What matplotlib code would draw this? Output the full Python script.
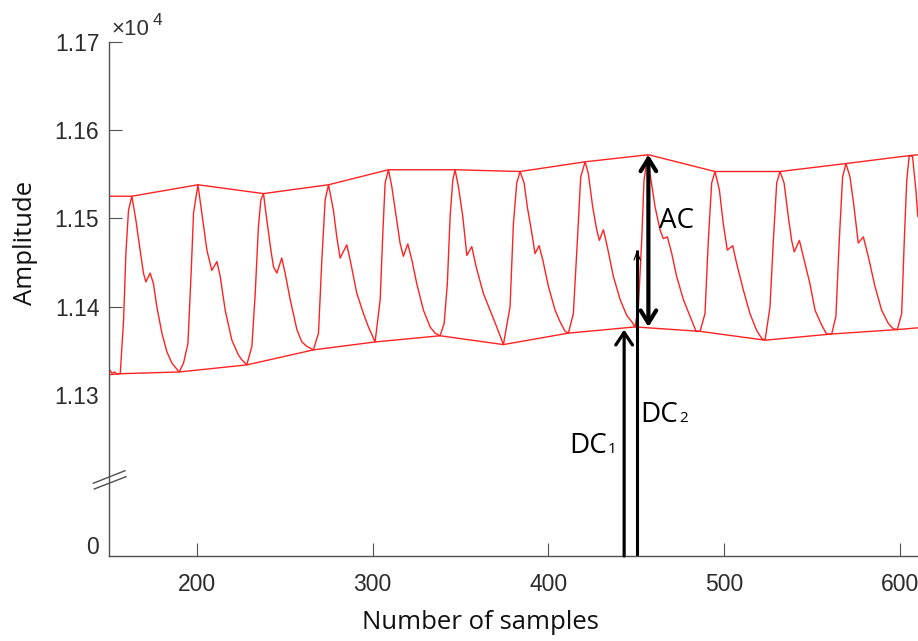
import matplotlib
matplotlib.use('Agg')
import matplotlib.pyplot as plt

# ---------------------- Data ----------------------
# PPG waveform, one row per beat: sharp upstroke, dicrotic notch, decay
wave_x = [150.1, 151.7, 153.1, 154.5, 156.4, 158.3, 159.6, 161.1, 163.0, 165.3, 167.7, 169.6, 171.0, 173.4, 175.3, 177.2, 180.1, 182.9, 185.8, 189.9,
          192.4, 194.9, 196.8, 198.1, 200.6, 202.8, 205.7, 208.5, 211.4, 213.3, 216.1, 219.9, 223.7, 225.5, 228.4,
          231.3, 233.2, 235.0, 236.4, 237.9, 239.8, 242.1, 243.6, 245.5, 248.3, 250.2, 253.1, 256.9, 259.7, 262.6, 266.3,
          269.2, 271.1, 273.0, 274.9, 277.7, 279.6, 281.5, 285.3, 287.2, 291.0, 294.8, 297.6, 301.4,
          304.3, 305.8, 307.1, 309.0, 310.9, 313.4, 315.6, 317.5, 320.0, 322.3, 325.1, 328.9, 332.7, 335.5, 338.4,
          340.7, 342.5, 344.1, 345.6, 346.9, 348.8, 351.3, 353.6, 356.4, 358.9, 363.0, 366.8, 370.6, 374.4,
          378.2, 380.1, 382.0, 383.9, 386.2, 388.0, 390.6, 392.4, 394.7, 396.8, 400.0, 403.8, 406.6, 409.5, 411.4,
          414.2, 416.5, 418.4, 420.9, 422.7, 425.2, 427.5, 429.0, 431.3, 433.5, 437.0, 440.8, 444.6, 447.4, 449.3,
          451.2, 453.1, 454.4, 456.5, 457.8, 460.7, 463.5, 465.4, 467.7, 470.2, 473.0, 476.8, 480.6, 484.0, 486.3,
          489.1, 491.0, 492.9, 494.8, 497.3, 499.5, 501.8, 504.9, 507.1, 510.9, 514.7, 518.5, 521.4, 523.3,
          526.1, 528.0, 529.9, 531.8, 534.1, 536.5, 538.4, 539.9, 542.8, 545.0, 548.8, 551.7, 555.5, 558.3, 561.2,
          563.6, 565.5, 567.4, 569.3, 571.6, 573.9, 576.3, 579.2, 582.0, 585.8, 589.6, 593.4, 596.2, 598.5,
          601.0, 602.5, 603.9, 605.3, 607.2, 609.1, 610.2]
wave_y = [11329, 11324.5, 11326, 11323.7, 11324, 11385, 11460, 11509, 11525, 11498, 11464, 11438, 11428, 11438, 11426, 11400, 11370, 11349, 11336, 11326,
          11336, 11358, 11441, 11506, 11538, 11506, 11464, 11441, 11451, 11434, 11396, 11362, 11345, 11340, 11334,
          11355, 11415, 11490, 11521, 11528, 11498, 11464, 11445, 11438, 11455, 11438, 11408, 11374, 11360, 11355, 11351,
          11370, 11453, 11521, 11538, 11509, 11479, 11455, 11470, 11453, 11415, 11392, 11377, 11360,
          11408, 11483, 11540, 11555, 11536, 11502, 11472, 11457, 11471, 11453, 11426, 11396, 11377, 11370, 11367,
          11381, 11426, 11502, 11543, 11555, 11536, 11502, 11458, 11468, 11445, 11415, 11396, 11377, 11357,
          11400, 11494, 11540, 11553, 11540, 11513, 11483, 11460, 11469, 11453, 11423, 11396, 11383, 11372, 11370,
          11392, 11475, 11547, 11564, 11551, 11513, 11487, 11475, 11487, 11468, 11434, 11408, 11390, 11383, 11377,
          11400, 11475, 11543, 11571, 11551, 11513, 11487, 11477, 11479, 11460, 11434, 11408, 11389, 11372, 11372,
          11392, 11475, 11540, 11553, 11532, 11494, 11464, 11469, 11449, 11419, 11392, 11373, 11364, 11362,
          11400, 11475, 11540, 11553, 11540, 11502, 11475, 11462, 11475, 11457, 11426, 11396, 11379, 11369, 11369,
          11389, 11475, 11547, 11562, 11547, 11513, 11472, 11479, 11457, 11423, 11396, 11381, 11375, 11374,
          11392, 11475, 11543, 11571, 11570, 11532, 11502]

# peak (upper) and trough (lower) envelopes
upper_x = [150, 163.0, 200.6, 237.9, 274.9, 309.0, 346.9, 383.9, 420.9, 456.9, 494.8, 531.8, 569.3, 605.3, 610.3]
upper_y = [11525, 11525, 11538, 11528, 11538, 11555, 11555, 11553, 11564, 11572, 11553, 11553, 11562, 11571, 11572]
lower_x = [150, 156.4, 189.9, 228.4, 266.3, 301.4, 338.4, 374.4, 411.4, 449.3, 486.3, 523.3, 561.2, 598.5, 610.3]
lower_y = [11323, 11324, 11326, 11334, 11351, 11360, 11367, 11357, 11370, 11377, 11372, 11362, 11369, 11374, 11376]

xticks = [200, 300, 400, 500, 600]
ytick_vals = [11130, 11300, 11400, 11500, 11600, 11700]
ytick_labels = ['0', '1.13', '1.14', '1.15', '1.16', '1.17']

# annotation markers: x position, low end, high end
ac_x, ac_lo, ac_hi = 456.9, 11377, 11572
dc1_x, dc1_hi = 443.1, 11374
dc2_x, dc2_hi = 450.5, 11464

# ---------------------- Plot ----------------------
plt.rcParams['font.family'] = ['Liberation Sans', 'DejaVu Sans']
label_font = ['Open Sans', 'DejaVu Sans']
axis_gray = '#505050'

fig = plt.figure(figsize=(9.18, 6.41), dpi=100)
ax = fig.add_axes([109 / 918, 85 / 641, 809 / 918, 514.3 / 641])

ax.plot(wave_x, wave_y, color='#ff2222', lw=1.0)
ax.plot(upper_x, upper_y, color='#ff2222', lw=1.0)
ax.plot(lower_x, lower_y, color='#ff2222', lw=1.0)

ymin = 11117.6
ax.set_xlim(150, 610.3)
ax.set_ylim(ymin, 11700)
ax.set_xticks(xticks)
ax.set_xticklabels([str(t) for t in xticks])
ax.set_yticks(ytick_vals)
ax.set_yticklabels(ytick_labels)
for t in ax.yaxis.get_major_ticks()[:2]:
    t.tick1line.set_visible(False)

for side in ['top', 'right']:
    ax.spines[side].set_visible(False)
for side in ['left', 'bottom']:
    ax.spines[side].set_color(axis_gray)
    ax.spines[side].set_linewidth(1.0)

ax.tick_params(direction='in', length=9.5, width=0.8, color=axis_gray,
               labelsize=16.5, labelcolor='#2b2b2b')
ax.tick_params(axis='x', pad=12)
ax.tick_params(axis='y', pad=7)

ax.set_ylabel('Amplitude', fontfamily=label_font, fontsize=18.5, color='#111111')
ax.yaxis.set_label_coords(-0.088, 0.609)
ax.set_xlabel('Number of samples', fontfamily=label_font, fontsize=18.5, color='#111111')
ax.xaxis.set_label_coords(0.4586, -0.105)

# exponent label
ax.text(0.003, 1.013, '\u00d710', transform=ax.transAxes, fontsize=16,
        va='baseline', ha='left', color='#333333')
ax.text(0.054, 1.033, '4', transform=ax.transAxes, fontsize=12.5,
        va='baseline', ha='left', color='#333333')

# axis break marks
ax.plot([-0.0194, 0.0198], [0.1414, 0.1659], transform=ax.transAxes,
        clip_on=False, color=axis_gray, lw=1.0)
ax.plot([-0.0182, 0.021], [0.1303, 0.1542], transform=ax.transAxes,
        clip_on=False, color=axis_gray, lw=1.0)

# AC / DC arrows
ax.annotate('', xy=(ac_x, ac_hi), xytext=(ac_x, ac_lo),
            arrowprops=dict(arrowstyle='<->,head_length=0.45,head_width=0.28',
                            lw=3, color='k', mutation_scale=20, shrinkA=0, shrinkB=0))
ax.annotate('', xy=(dc1_x, dc1_hi), xytext=(dc1_x, ymin), annotation_clip=False,
            arrowprops=dict(arrowstyle='->,head_length=0.45,head_width=0.3',
                            lw=2.3, color='k', mutation_scale=20, shrinkA=0, shrinkB=0))
ax.plot([dc2_x, dc2_x], [ymin, dc2_hi], color='k', lw=2.2, solid_capstyle='butt')
ax.annotate('', xy=(dc2_x, dc2_hi), xytext=(dc2_x, dc2_hi - 25),
            arrowprops=dict(arrowstyle='->,head_length=0.4,head_width=0.15',
                            lw=0.8, color='k', mutation_scale=15, shrinkA=0, shrinkB=0))

ax.text(463, 11489, 'AC', fontfamily=label_font, fontsize=20, ha='left', va='baseline')
ax.text(433.4, 11234, 'DC', fontfamily=label_font, fontsize=20, ha='right', va='baseline')
ax.text(433.9, 11234, '1', fontfamily=label_font, fontsize=11, ha='left', va='baseline')
ax.text(473.8, 11269, 'DC', fontfamily=label_font, fontsize=20, ha='right', va='baseline')
ax.text(474.3, 11269, '2', fontfamily=label_font, fontsize=11, ha='left', va='baseline')

fig.savefig('out.png', dpi=100)
plt.close(fig)
